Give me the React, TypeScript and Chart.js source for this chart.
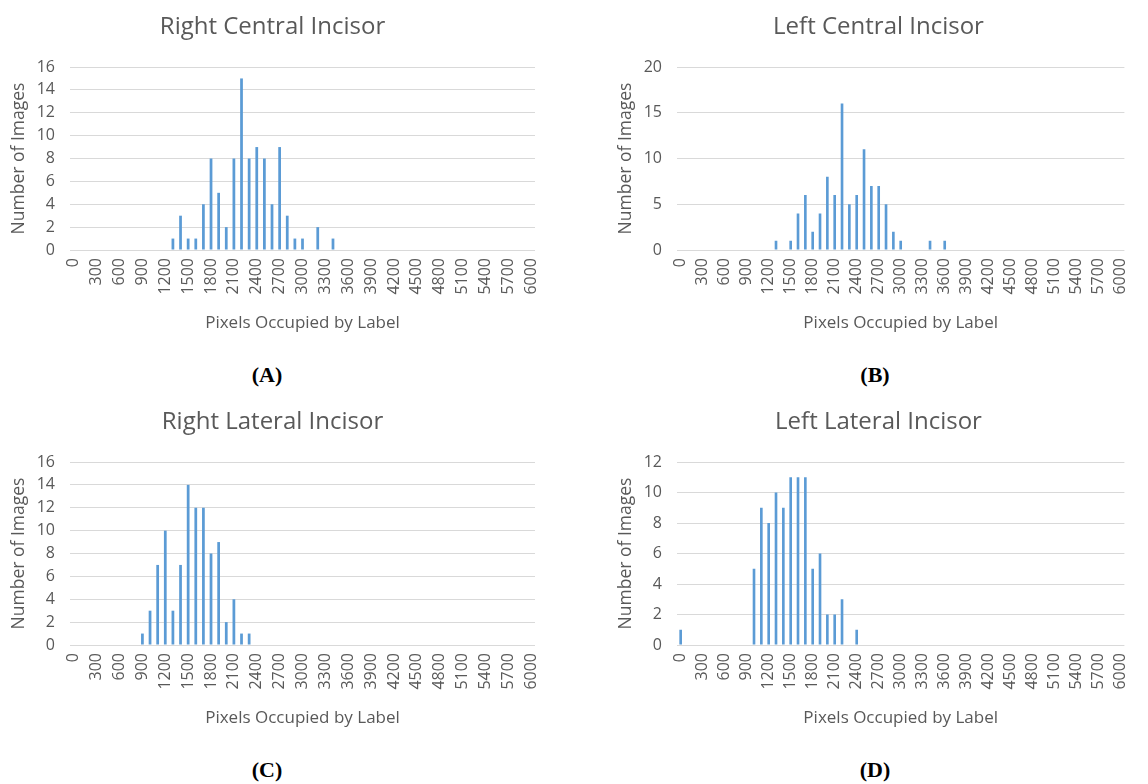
import React, { useEffect, useRef } from "react";
import { Chart, registerables } from "chart.js";

Chart.register(...registerables);

// Category axis: pixel-count bins (step 100)
const binStarts = [
  0, 100, 200, 300, 400, 500, 600, 700, 800, 900,
  1000, 1100, 1200, 1300, 1400, 1500, 1600, 1700, 1800, 1900,
  2000, 2100, 2200, 2300, 2400, 2500, 2600, 2700, 2800, 2900,
  3000, 3100, 3200, 3300, 3400, 3500, 3600, 3700, 3800, 3900,
  4000, 4100, 4200, 4300, 4400, 4500, 4600, 4700, 4800, 4900,
  5000, 5100, 5200, 5300, 5400, 5500, 5600, 5700, 5800, 5900,
  6000,
];

// (A) Right Central Incisor
const rightCentralBins = [1300, 1400, 1500, 1600, 1700, 1800, 1900, 2000, 2100, 2200, 2300, 2400, 2500, 2600, 2700, 2800, 2900, 3000, 3200, 3400];
const rightCentralCounts = [1, 3, 1, 1, 4, 8, 5, 2, 8, 15, 8, 9, 8, 4, 9, 3, 1, 1, 2, 1];

// (B) Left Central Incisor
const leftCentralBins = [1300, 1500, 1600, 1700, 1800, 1900, 2000, 2100, 2200, 2300, 2400, 2500, 2600, 2700, 2800, 2900, 3000, 3400, 3600];
const leftCentralCounts = [1, 1, 4, 6, 2, 4, 8, 6, 16, 5, 6, 11, 7, 7, 5, 2, 1, 1, 1];

// (C) Right Lateral Incisor
const rightLateralBins = [900, 1000, 1100, 1200, 1300, 1400, 1500, 1600, 1700, 1800, 1900, 2000, 2100, 2200, 2300];
const rightLateralCounts = [1, 3, 7, 10, 3, 7, 14, 12, 12, 8, 9, 2, 4, 1, 1];

// (D) Left Lateral Incisor
const leftLateralBins = [0, 1000, 1100, 1200, 1300, 1400, 1500, 1600, 1700, 1800, 1900, 2000, 2100, 2200, 2400];
const leftLateralCounts = [1, 5, 9, 8, 10, 9, 11, 11, 11, 5, 6, 2, 2, 3, 1];

const FONT = "'Open Sans', 'Liberation Sans', sans-serif";
const TEXT = "#595959";
const BAR = "#5b9bd5";
const GRID = "#d9d9d9";

function toSeries(bins: number[], counts: number[]): number[] {
  return binStarts.map((b) => {
    const i = bins.indexOf(b);
    return i >= 0 ? counts[i] : 0;
  });
}

type PanelProps = {
  left: number;
  top: number;
  width: number;
  height: number;
  padRight: number;
  title: string;
  bins: number[];
  counts: number[];
  yMax: number;
  yStep: number;
};

function Panel(p: PanelProps) {
  const ref = useRef<HTMLCanvasElement | null>(null);
  useEffect(() => {
    if (!ref.current) return;
    const chart = new Chart(ref.current, {
      type: "bar",
      data: {
        labels: binStarts.map(String),
        datasets: [
          {
            data: toSeries(p.bins, p.counts),
            backgroundColor: BAR,
            barPercentage: 0.36,
            categoryPercentage: 1,
          },
        ],
      },
      options: {
        animation: false,
        responsive: false,
        maintainAspectRatio: false,
        layout: { padding: { left: 10, right: p.padRight, top: 0, bottom: 0 } },
        plugins: {
          legend: { display: false },
          tooltip: { enabled: false },
          title: {
            display: true,
            text: p.title,
            color: TEXT,
            font: { family: FONT, size: 24, weight: "normal", lineHeight: 1.2 },
            padding: { top: 13, bottom: 25.2 },
          },
        },
        scales: {
          x: {
            grid: { display: false, drawTicks: false },
            border: { display: false },
            ticks: {
              autoSkip: false,
              maxRotation: 90,
              minRotation: 90,
              padding: 8,
              color: TEXT,
              font: { family: FONT, size: 16 },
              callback: (_v: any, i: number) => (i % 3 === 0 ? String(binStarts[i]) : ""),
            },
            title: {
              display: true,
              text: "Pixels Occupied by Label",
              color: TEXT,
              font: { family: FONT, size: 17, lineHeight: 1.2 },
              padding: { top: 0, bottom: 7 },
            },
            afterFit: (s: any) => {
              s.height = 90;
            },
          },
          y: {
            min: 0,
            max: p.yMax,
            ticks: {
              stepSize: p.yStep,
              padding: 15,
              color: TEXT,
              font: { family: FONT, size: 16 },
            },
            grid: { color: GRID, drawTicks: false, lineWidth: 1 },
            border: { display: false },
            title: {
              display: true,
              text: "Number of Images",
              color: TEXT,
              font: { family: FONT, size: 17.5, lineHeight: 1.0 },
              padding: { top: 0, bottom: 0 },
            },
            afterFit: (s: any) => {
              s.width = 60;
            },
          },
        },
      },
    } as any);
    return () => chart.destroy();
  }, []);
  return (
    <canvas
      ref={ref}
      width={p.width}
      height={p.height}
      style={{ position: "absolute", left: p.left, top: p.top, width: p.width, height: p.height, display: "block" }}
    />
  );
}

const letterStyle: React.CSSProperties = {
  position: "absolute",
  width: 80,
  textAlign: "center",
  fontFamily: "'Liberation Serif', 'DejaVu Serif', serif",
  fontWeight: "bold",
  fontSize: 22,
  color: "#000",
  lineHeight: "24px",
};

export default function App() {
  return (
    <div style={{ position: "absolute", left: 0, top: 0, width: 1148, height: 784, overflow: "hidden", background: "#fff" }}>
      <Panel left={0} top={0} width={560} height={340} padRight={25} title="Right Central Incisor" bins={rightCentralBins} counts={rightCentralCounts} yMax={16} yStep={2} />
      <Panel left={607} top={0} width={541} height={340} padRight={8} title="Left Central Incisor" bins={leftCentralBins} counts={leftCentralCounts} yMax={20} yStep={5} />
      <Panel left={0} top={395} width={560} height={340} padRight={25} title="Right Lateral Incisor" bins={rightLateralBins} counts={rightLateralCounts} yMax={16} yStep={2} />
      <Panel left={607} top={395} width={541} height={340} padRight={8} title="Left Lateral Incisor" bins={leftLateralBins} counts={leftLateralCounts} yMax={12} yStep={2} />
      <div style={{ ...letterStyle, left: 227, top: 363 }}>(A)</div>
      <div style={{ ...letterStyle, left: 835, top: 363 }}>(B)</div>
      <div style={{ ...letterStyle, left: 227, top: 758 }}>(C)</div>
      <div style={{ ...letterStyle, left: 835, top: 758 }}>(D)</div>
    </div>
  );
}
